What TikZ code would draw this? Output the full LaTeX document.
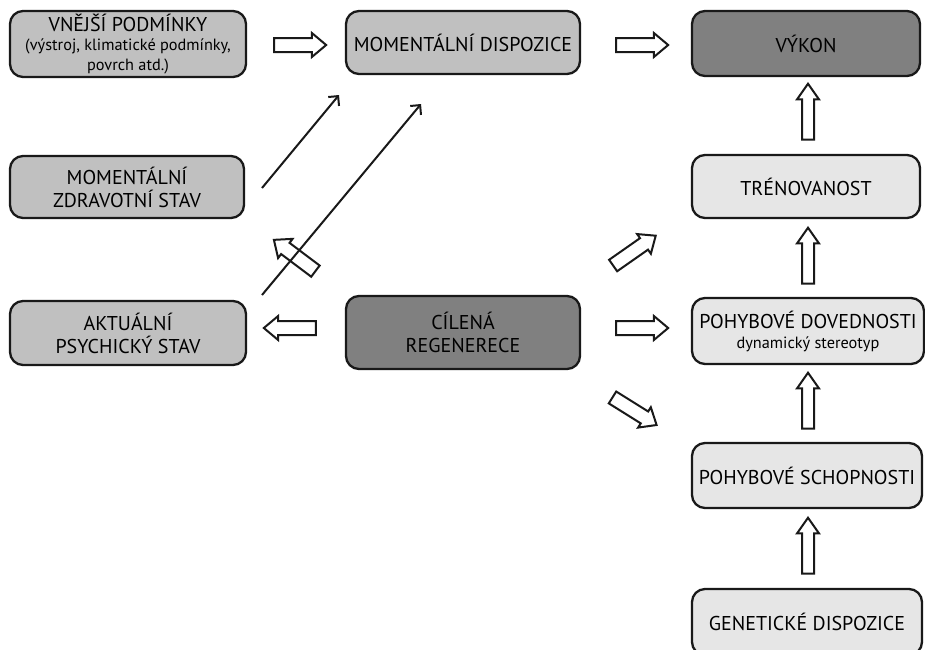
\documentclass[tikz,border=0pt]{standalone}
\usepackage{fontspec}
\setmainfont{PT Sans}
\usetikzlibrary{shapes.arrows,arrows.meta}
\definecolor{lg}{HTML}{C0C0C0}
\definecolor{dg}{HTML}{808080}
\definecolor{vl}{HTML}{E6E6E6}
\newcommand{\smalltxt}{\fontsize{16.3}{18}\selectfont}
\tikzset{
  box/.style={draw=black!90, line width=2.3pt, rounded corners=13pt, align=center, inner sep=2pt, font=\fontsize{20}{23}\selectfont},
  harrow/.style={single arrow, draw=black!90, fill=white, line width=2pt, inner sep=6pt, single arrow head extend=5pt, single arrow tip angle=80, minimum height=52pt},
  varrow/.style={single arrow, draw=black!90, fill=white, line width=2pt, inner sep=5pt, single arrow head extend=5pt, single arrow tip angle=70, minimum height=56pt, shape border rotate=90},
  thin/.style={line width=2pt, draw=black!90, -{Straight Barb[length=7pt,width=14pt,line width=2pt]}}
}
\begin{document}
\begin{tikzpicture}[x=1pt,y=-1pt]
\useasboundingbox (0,0) rectangle (925,649);
\clip (0,0) rectangle (925,649);
% boxes
\node[box, fill=lg, minimum width=236, minimum height=66] (vn) at (128,44) {VNĚJŠÍ PODMÍNKY\\[-4pt]{\smalltxt (výstroj, klimatické podmínky,}\\[-3pt]{\smalltxt povrch atd.)}};
\node[box, fill=lg, minimum width=234, minimum height=63] (md) at (463,42.5) {MOMENTÁLNÍ DISPOZICE};
\node[box, fill=dg, minimum width=228, minimum height=65] (vy) at (806,43.5) {VÝKON};
\node[box, fill=lg, minimum width=234, minimum height=62] (zs) at (127,187) {MOMENTÁLNÍ\\ZDRAVOTNÍ STAV};
\node[box, fill=vl, minimum width=228, minimum height=63] (tr) at (806,186.5) {TRÉNOVANOST};
\node[box, fill=lg, minimum width=236, minimum height=64] (ps) at (128,333) {AKTUÁLNÍ\\PSYCHICKÝ STAV};
\node[box, fill=dg, minimum width=234, minimum height=73] (cr) at (463,332.5) {CÍLENÁ\\REGENERECE};
\node[box, fill=vl, minimum width=232, minimum height=66] (pd) at (808,331) {POHYBOVÉ DOVEDNOSTI\\[-3pt]{\smalltxt dynamický stereotyp}};
\node[box, fill=vl, minimum width=230, minimum height=65] (sch) at (807,475.5) {POHYBOVÉ SCHOPNOSTI};
\node[box, fill=vl, minimum width=230, minimum height=66] (gd) at (807,622) {GENETICKÉ DISPOZICE};
% block arrows
\node[harrow] (a1) at (296,45) {};
\node[harrow] (a2) at (638,45) {};
\node[harrow, shape border rotate=180] (a3) at (294,328) {};
\node[harrow] (a4) at (638,328) {};
\node[harrow, rotate=35] (a5) at (631,253) {};
\node[harrow, rotate=-32] (a6) at (631,409) {};
\node[harrow, rotate=143] (a7) at (298,258) {};
\node[varrow] (v1) at (808,116) {};
\node[varrow] (v2) at (808,260) {};
\node[varrow] (v3) at (808,405) {};
\node[varrow] (v4) at (808,550) {};
% thin arrows
\coordinate (t1s) at (262,188);
\coordinate (t1e) at (339,95);
\coordinate (t2s) at (262,295);
\coordinate (t2e) at (421,104);
\draw[thin] (t1s) -- (t1e);
\draw[thin] (t2s) -- (t2e);
\end{tikzpicture}
\end{document}
